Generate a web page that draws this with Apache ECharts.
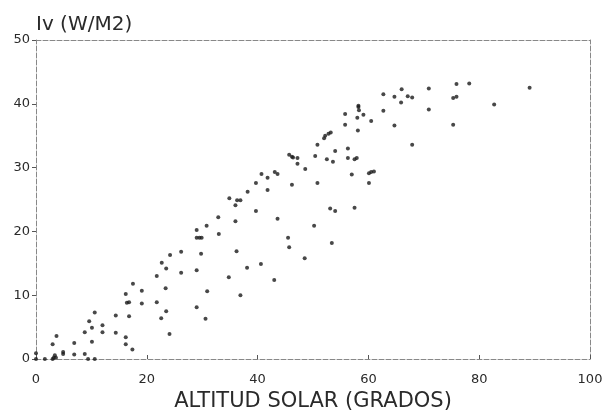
<!DOCTYPE html>
<html>
<head>
<meta charset="utf-8">
<script src="https://cdn.jsdelivr.net/npm/echarts@6/dist/echarts.min.js"></script>
<style>
  html, body { margin: 0; padding: 0; background: #fff; }
  #chart { width: 603px; height: 410px; }
</style>
</head>
<body>
<div id="chart"></div>
<script>
// solar altitude (degrees) and illuminance Iv (W/M2)
const altitud = [
  0, 0, 1.6, 3.0, 3.2, 3.6, 3.4, 3.0, 3.7, 4.9, 4.9, 6.9, 6.9, 8.8, 8.8, 9.6, 10.1, 10.1,
  10.6, 9.4, 10.6, 12.0, 12.0, 14.4, 14.4, 16.2, 16.2, 17.4, 16.2, 16.4, 16.8, 16.8, 17.5,
  19.1, 19.1, 21.8, 21.8, 22.7, 23.5, 23.4, 23.5, 22.6, 24.1, 24.2, 26.2, 26.2, 29.0, 29.0,
  45.7, 46.2, 46.4, 47.2, 47.2, 50.4, 52.5, 53.6, 54.0, 56.3, 48.6, 40.7, 41.8, 43.1, 43.6,
  39.7, 46.2, 50.8, 38.2, 41.8, 34.9, 36.3, 36.9, 36.0, 39.7, 53.1, 54.0, 32.9, 36.0, 43.6,
  30.8, 29.0, 29.0, 29.5, 29.9, 33.0, 50.2, 45.5, 45.7, 53.4, 29.8, 36.2, 38.1, 40.6, 34.8,
  48.5, 43.0, 30.9, 36.9, 30.6,
  75.9, 78.2, 89.1, 70.9, 66.0, 62.7, 64.7, 67.1, 67.9, 75.3, 75.9, 65.9, 82.7, 58.2, 58.2,
  58.3, 62.7, 70.9, 55.8, 59.1, 58.0, 60.5, 55.8, 64.7, 75.3, 58.1, 53.2, 52.8, 52.2, 52.0,
  50.8, 67.9, 56.3, 57.5, 57.9, 57.0, 60.1, 60.5, 61.0, 60.1, 57.5
];
const iv = [
  0.9, 0, 0, 0, 0.2, 0.2, 0.6, 2.3, 3.6, 1.1, 0.8, 2.5, 0.7, 0.8, 4.2, 5.9, 4.9, 2.7,
  7.3, 0, 0, 5.3, 4.2, 6.8, 4.1, 3.4, 2.3, 1.5, 10.2, 8.8, 8.9, 6.7, 11.8,
  10.7, 8.7, 13.0, 8.9, 15.1, 14.2, 11.1, 7.5, 6.4, 3.9, 16.3, 16.8, 13.5, 13.9, 8.1,
  32.0, 31.7, 31.6, 31.5, 30.6, 31.8, 31.3, 30.9, 32.6, 31.5, 29.8, 29.0, 28.4, 29.3, 29.0,
  27.6, 27.3, 27.6, 26.2, 26.5, 25.2, 24.9, 24.9, 24.1, 23.2, 23.6, 23.2, 22.2, 21.6, 22.0,
  20.9, 20.2, 19.0, 19.0, 19.0, 19.6, 20.9, 19.0, 17.5, 18.2, 16.5, 16.9, 14.3, 14.9, 12.8,
  15.8, 12.4, 10.6, 10.0, 6.3,
  43.1, 43.2, 42.5, 42.4, 42.3, 41.5, 41.1, 41.2, 41.0, 40.9, 41.1, 40.2, 39.9, 39.7, 39.5,
  39.0, 38.9, 39.1, 38.4, 38.3, 37.8, 37.3, 36.7, 36.6, 36.7, 35.8, 35.5, 35.3, 35.0, 34.6,
  33.6, 33.6, 33.0, 31.3, 31.5, 28.9, 29.1, 29.3, 29.4, 27.6, 23.7
];
const xTicks = [0, 20, 40, 60, 80, 100];
const yTicks = [0, 10, 20, 30, 40, 50];

const points = altitud.map((a, i) => [a, iv[i]]);

const chart = echarts.init(document.getElementById('chart'));

const frameLine = { show: true, onZero: false, lineStyle: { color: '#888', width: 1, type: [5, 2] } };
const font = 'DejaVu Sans';

chart.setOption({
  animation: false,
  backgroundColor: '#fff',
  grid: { left: 36, right: 13, top: 40, bottom: 51, outerBoundsMode: 'none', containLabel: false },
  xAxis: [{
    type: 'value',
    min: xTicks[0],
    max: xTicks[xTicks.length - 1],
    interval: 20,
    name: 'ALTITUD SOLAR (GRADOS)',
    nameLocation: 'middle',
    nameGap: 25,
    nameTextStyle: { fontFamily: font, fontSize: 21, color: '#2a2a2a' },
    axisLine: frameLine,
    axisTick: { show: true, inside: true, length: 4, lineStyle: { color: '#555' } },
    axisLabel: { fontFamily: font, fontSize: 13, color: '#2a2a2a', margin: 14 },
    splitLine: { show: false }
  }, {
    type: 'value', position: 'top', min: 0, max: 100,
    axisLine: frameLine, axisTick: { show: false }, axisLabel: { show: false },
    splitLine: { show: false }
  }],
  yAxis: [{
    type: 'value',
    min: yTicks[0],
    max: yTicks[yTicks.length - 1],
    interval: 10,
    name: 'Iv (W/M2)',
    nameLocation: 'end',
    nameGap: 5,
    nameTextStyle: { fontFamily: font, fontSize: 20, color: '#2a2a2a', align: 'left', verticalAlign: 'bottom' },
    axisLine: frameLine,
    axisTick: { show: true, length: 4, lineStyle: { color: '#555' } },
    axisLabel: { fontFamily: font, fontSize: 13, color: '#2a2a2a', margin: 6 },
    splitLine: { show: false }
  }, {
    type: 'value', position: 'right', min: 0, max: 50,
    axisLine: frameLine, axisTick: { show: false }, axisLabel: { show: false },
    splitLine: { show: false }
  }],
  series: [{
    type: 'scatter',
    data: points,
    symbol: 'circle',
    symbolSize: 4,
    itemStyle: { color: '#1a1a1a' }
  }]
});
</script>
</body>
</html>
